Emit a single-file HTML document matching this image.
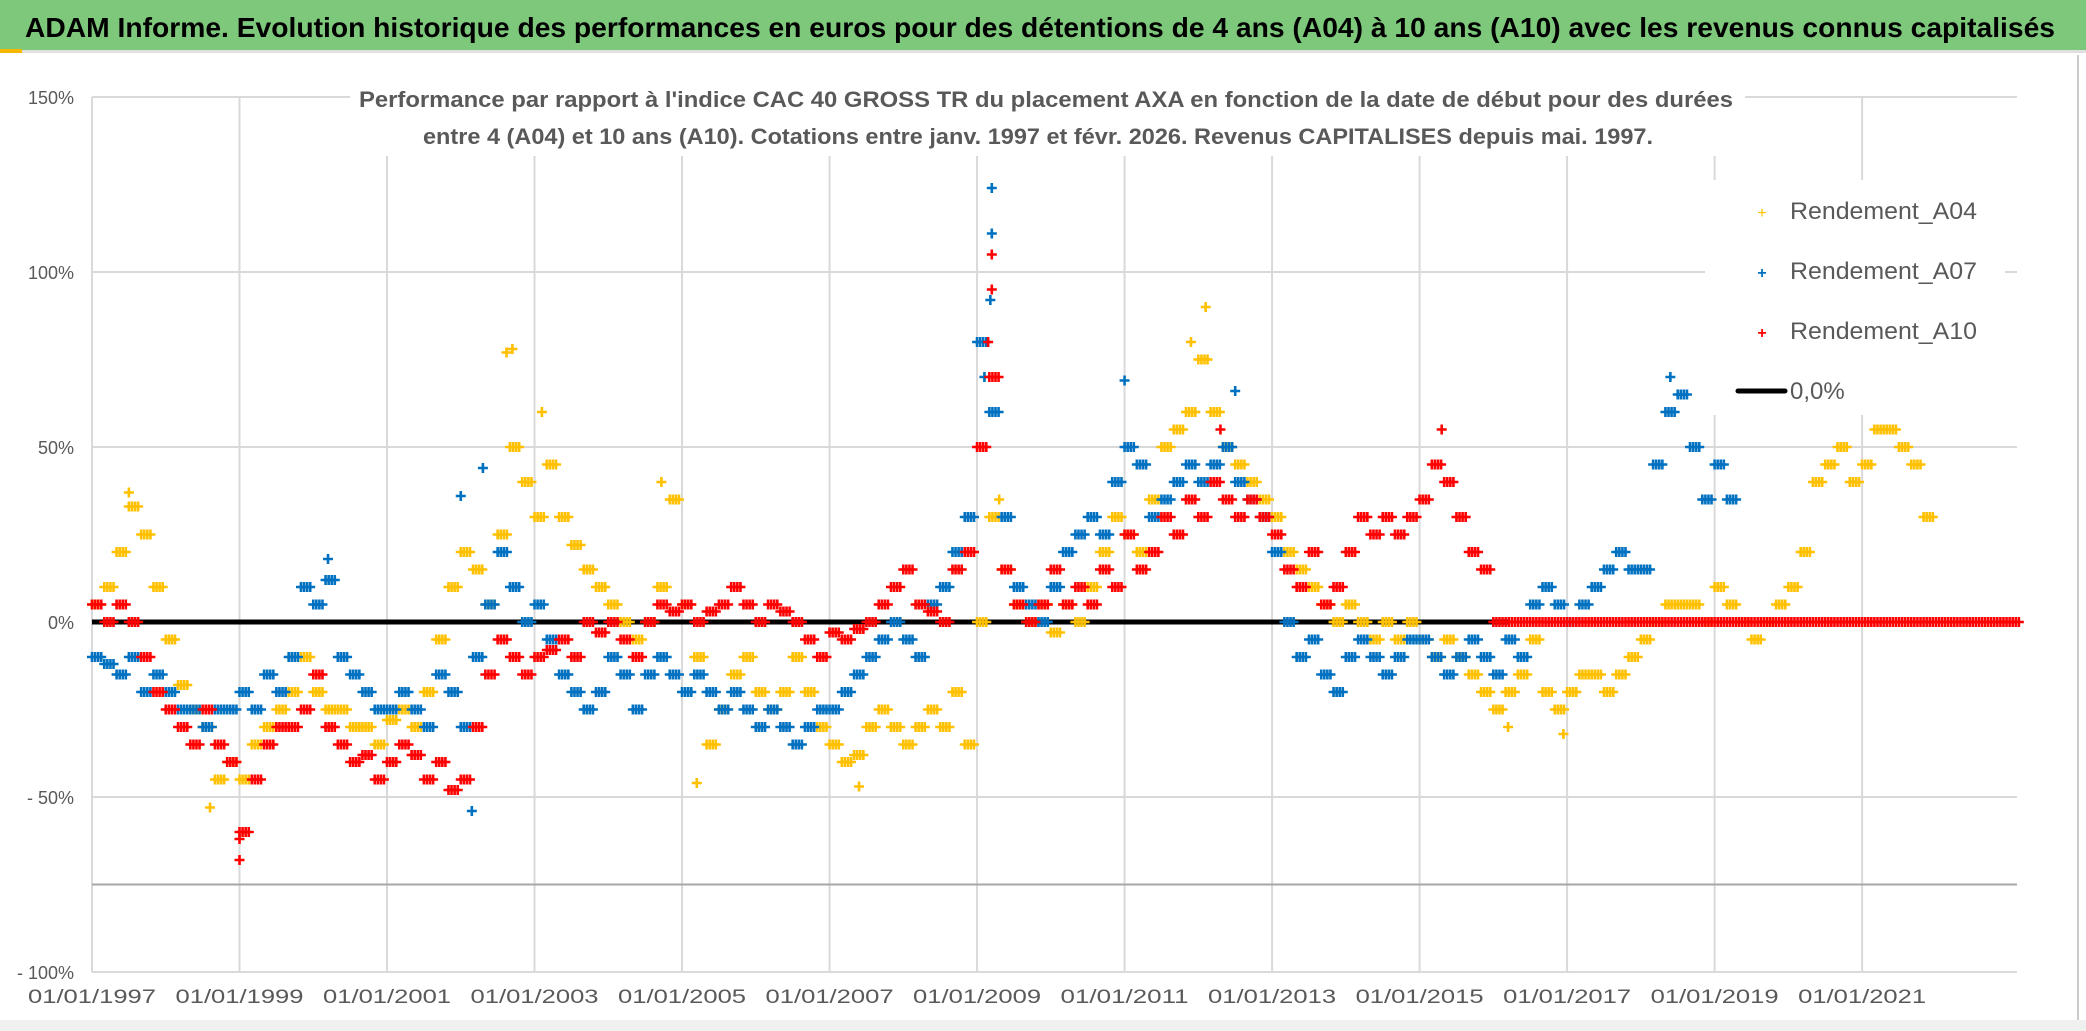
<!DOCTYPE html>
<html><head><meta charset="utf-8"><style>
html,body{margin:0;padding:0;background:#fff;}
svg{display:block;font-family:"Liberation Sans",sans-serif;}
</style></head><body>
<svg id="chart" width="2086" height="1031" viewBox="0 0 2086 1031" xmlns="http://www.w3.org/2000/svg">
<rect x="0" y="0" width="2086" height="1031" fill="#fff"/>
<rect x="0" y="0" width="2086" height="50" fill="#7ec87c"/>
<rect x="0" y="50" width="2086" height="3" fill="#e0e0e0"/>
<rect x="0" y="49" width="22" height="4" fill="#f5b800"/>
<text x="1040" y="37" text-anchor="middle" font-size="28" font-weight="bold" fill="#000" textLength="2030" lengthAdjust="spacingAndGlyphs">ADAM Informe. Evolution historique des performances en euros pour des détentions de 4 ans (A04) à 10 ans (A10) avec les revenus connus capitalisés</text>
<line x1="2078" y1="55" x2="2078" y2="1031" stroke="#ccc" stroke-width="2"/>
<rect x="0" y="1020" width="2086" height="11" fill="#f0f0f0"/>
<g id="grid"></g>
<g id="axes"></g>
<g id="series"></g>
<rect x="350" y="78" width="1395" height="78" fill="#fff"/>
<text x="1046" y="107" text-anchor="middle" font-size="22" font-weight="bold" fill="#595959" textLength="1374" lengthAdjust="spacingAndGlyphs">Performance par rapport à l'indice CAC 40 GROSS TR  du placement AXA en fonction de la date de début pour des durées</text>
<text x="1038" y="144" text-anchor="middle" font-size="22" font-weight="bold" fill="#595959" textLength="1230" lengthAdjust="spacingAndGlyphs">entre 4 (A04) et 10 ans (A10). Cotations entre janv. 1997 et févr. 2026. Revenus CAPITALISES depuis mai. 1997.</text>
<g>
<rect x="1705" y="180" width="300" height="235" fill="#fff"/>
<g><text x="1762" y="218" text-anchor="middle" font-size="16" fill="#FFC000">+</text><text x="1790" y="219" font-size="24" fill="#595959" textLength="187" lengthAdjust="spacingAndGlyphs">Rendement_A04</text></g>
<g><text x="1762" y="278" text-anchor="middle" font-size="16" font-weight="bold" fill="#0070C0">+</text><text x="1790" y="279" font-size="24" fill="#595959" textLength="187" lengthAdjust="spacingAndGlyphs">Rendement_A07</text></g>
<g><text x="1762" y="338" text-anchor="middle" font-size="16" font-weight="bold" fill="#FF0000">+</text><text x="1790" y="339" font-size="24" fill="#595959" textLength="187" lengthAdjust="spacingAndGlyphs">Rendement_A10</text></g>
<g><line x1="1738" y1="391" x2="1785" y2="391" stroke="#000" stroke-width="5" stroke-linecap="round"/><text x="1790" y="399" font-size="24" fill="#595959">0,0%</text></g>
</g>
</svg>
<script>
const xStart = 1997, xEnd = 2023.1;
const yTicks = [150, 100, 50, 0, -50, -100];
const yTickLabels = ["150%", "100%", "50%", "0%", "- 50%", "- 100%"];
const xTicks = [1997,1999,2001,2003,2005,2007,2009,2011,2013,2015,2017,2019,2021];
const xTickLabels = ["01/01/1997","01/01/1999","01/01/2001","01/01/2003","01/01/2005","01/01/2007","01/01/2009","01/01/2011","01/01/2013","01/01/2015","01/01/2017","01/01/2019","01/01/2021"];
const axisCross = -75;
const zeroLineEnd = 2016.2;
const step = 1/6;
const a04Start = 1997;
const a04 = [5,10,20,33,25,10,-5,-18,-25,-30,-45,-40,-45,-35,-30,-25,-20,-10,-20,-25,-25,-30,-30,-35,-28,-25,-30,-20,-5,10,20,15,5,25,50,40,30,45,30,22,15,10,5,0,-5,0,10,35,5,-10,-35,-25,-15,-10,-20,-25,-20,-10,-20,-30,-35,-40,-38,-30,-25,-30,-35,-30,-25,-30,-20,-35,0,30,15,5,0,5,-3,5,0,10,20,30,25,20,35,50,55,60,75,60,50,45,40,35,30,20,15,10,5,0,5,0,-5,0,-5,0,-5,-10,-5,-10,-15,-20,-25,-20,-15,-5,-20,-25,-20,-15,-15,-20,-15,-10,-5,0,5,5,5,0,10,5,0,-5,0,5,10,20,40,45,50,40,45,55,55,50,45,30];
const a07Start = 1997;
const a07 = [-10,-12,-15,-10,-20,-15,-20,-25,-25,-30,-25,-25,-20,-25,-15,-20,-10,10,5,12,-10,-15,-20,-25,-25,-20,-25,-30,-15,-20,-30,-10,5,20,10,0,5,-5,-15,-20,-25,-20,-10,-15,-25,-15,-10,-15,-20,-15,-20,-25,-20,-25,-30,-25,-30,-35,-30,-25,-25,-20,-15,-10,-5,0,-5,-10,5,10,20,30,80,60,30,10,5,0,10,20,25,30,25,40,50,45,30,35,40,45,40,45,50,40,35,30,20,0,-10,-5,-15,-20,-10,-5,-10,-15,-10,-5,-5,-10,-15,-10,-5,-10,-15,-5,-10,5,10,5,0,5,10,15,20,15,15,45,60,65,50,35,45,35];
const a10Start = 1997;
const a10 = [5,0,5,0,-10,-20,-25,-30,-35,-25,-35,-40,-60,-45,-35,-30,-30,-25,-15,-30,-35,-40,-38,-45,-40,-35,-38,-45,-40,-48,-45,-30,-15,-5,-10,-15,-10,-8,-5,-10,0,-3,0,-5,-10,0,5,3,5,0,3,5,10,5,0,5,3,0,-5,-10,-3,-5,-2,0,5,10,15,5,3,0,15,20,50,70,15,5,0,5,15,5,10,5,15,10,25,15,20,30,25,35,30,40,35,30,35,30,25,15,10,20,5,10,20,30,25,30,25,30,35,45,40,30,20,15,0,0,0,0,0,0,0,0,0,0,0,0,0,0,0,0,0,0,0,0,0,0,0,0,0,0,0,0,0,0,0,0,0,0,0,0,0,0,0,0,0,0,0];
const a04Peaks = [[1997.5,37],[1998.6,-53],[2002.62,77],[2002.7,78],[2003.1,60],[2004.72,40],[2005.2,-46],[2007.4,-47],[2009.3,35],[2012.1,90],[2011.9,80],[2016.2,-30],[2016.95,-32]];
const a07Peaks = [[2000.2,18],[2002.0,36],[2002.3,44],[2002.15,-54],[2009.2,124],[2009.2,111],[2009.18,92],[2009.1,70],[2011.0,69],[2012.5,66],[2018.4,70]];
const a10Peaks = [[1999.0,-68],[1999.0,-62],[2009.2,105],[2009.2,95],[2009.15,80],[2012.3,55],[2015.3,55]];
const NS = "http://www.w3.org/2000/svg";
const L = 92, R = 2017, T = 97, B = 972;
function xs(t){ return L + (t - xStart) / (xEnd - xStart) * (R - L); }
function ys(v){ return T + (150 - v) / 250 * (B - T); }
function mk(tag, attrs, parent){ const e = document.createElementNS(NS, tag); for (const k in attrs) e.setAttribute(k, attrs[k]); parent.appendChild(e); return e; }
const grid = document.getElementById('grid');
const axes = document.getElementById('axes');
const series = document.getElementById('series');
yTicks.forEach((v, i) => {
  const ln = mk('line', {x1: L, x2: R, y1: ys(v), y2: ys(v), stroke: '#d9d9d9', 'stroke-width': 2}, grid);
  
  
  const tx = mk('text', {x: 74, y: ys(v) + 7, 'text-anchor': 'end', 'font-size': 18, fill: '#595959'}, axes);
  tx.textContent = yTickLabels[i];
  
  
});
xTicks.forEach((t, i) => {
  const ln = mk('line', {x1: xs(t), x2: xs(t), y1: T, y2: B, stroke: '#d9d9d9', 'stroke-width': 2}, grid);
  
  
  const tx = mk('text', {x: xs(t), y: 1003, 'text-anchor': 'middle', 'font-size': 19, fill: '#595959', textLength: 128, lengthAdjust: 'spacingAndGlyphs'}, axes);
  tx.textContent = xTickLabels[i];
  
  
});
const xa = mk('line', {x1: L, x2: R, y1: ys(axisCross), y2: ys(axisCross), stroke: '#a6a6a6', 'stroke-width': 2}, axes);


const zl = mk('line', {x1: xs(xStart), x2: xs(zeroLineEnd), y1: ys(0), y2: ys(0), stroke: '#000', 'stroke-width': 5}, series);


function plus(t, v, color, name){
  const x = xs(t), y = ys(v), s = 5;
  const p = mk('path', {d: `M${x-s} ${y}H${x+s}M${x} ${y-s}V${y+s}`, stroke: color, 'stroke-width': 2.6, fill: 'none'}, series);
  
  
}
function drawSeries(vals, start, peaks, color, name){
  vals.forEach((v, i) => {
    const t = start + i * step;
    for (let k = 0; k < 4; k++) plus(t + k * step / 4, v, color, name);
  });
  peaks.forEach(p => plus(p[0], p[1], color, name));
}
drawSeries(a04, a04Start, a04Peaks, '#FFC000', 'a04-point');
drawSeries(a07, a07Start, a07Peaks, '#0070C0', 'a07-point');
drawSeries(a10, a10Start, a10Peaks, '#FF0000', 'a10-point');
</script>
</body></html>
